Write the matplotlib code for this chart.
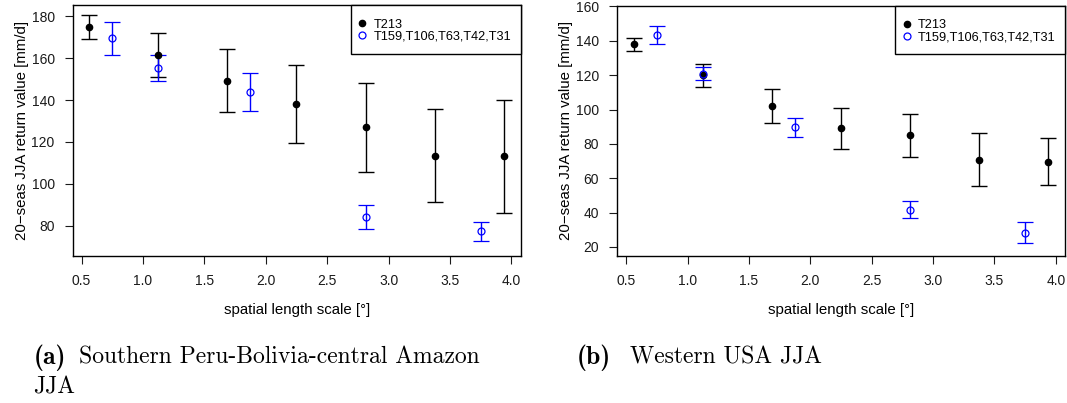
import matplotlib
matplotlib.use("Agg")
import matplotlib.pyplot as plt
from matplotlib.lines import Line2D
from matplotlib.patches import Rectangle

# --- Data ---
x_t213 = [0.5625, 1.125, 1.6875, 2.25, 2.8125, 3.375, 3.9375]
x_low  = [0.75, 1.125, 1.875, 2.8125, 3.75]

# (a) Southern Peru-Bolivia-central Amazon JJA
a_t213     = [175.0, 161.5, 149.2, 138.2, 127.1, 113.1, 113.1]
a_t213_hi  = [180.8, 172.1, 164.5, 156.6, 148.1, 135.5, 139.8]
a_t213_lo  = [168.9, 151.1, 134.4, 119.7, 105.6, 91.1, 86.3]
a_low      = [169.4, 155.2, 143.9, 84.4, 77.4]
a_low_hi   = [177.3, 161.3, 153.1, 90.0, 81.8]
a_low_lo   = [161.3, 149.2, 134.8, 78.5, 72.9]

# (b) Western USA JJA
b_t213     = [137.9, 120.3, 102.3, 89.2, 84.9, 70.8, 69.6]
b_t213_hi  = [141.6, 126.4, 111.7, 101.1, 97.3, 86.4, 83.3]
b_t213_lo  = [134.3, 112.9, 92.4, 77.3, 72.6, 55.4, 55.8]
b_low      = [143.4, 120.6, 89.6, 41.7, 28.3]
b_low_hi   = [148.9, 124.8, 95.1, 46.7, 34.6]
b_low_lo   = [138.2, 116.9, 84.1, 36.8, 22.0]

labels = ["T213", "T159,T106,T63,T42,T31"]

# --- Style ---
plt.rcParams["font.family"] = ["Liberation Sans", "DejaVu Sans"]
t213_style = {"color": "black", "marker": "o", "ms": 4.5, "ls": "none",
              "elinewidth": 1, "capsize": 5.8, "capthick": 1}
low_style  = {"color": "#0000FF", "marker": "o", "ms": 5, "ls": "none", "mfc": "none",
              "mew": 0.9, "elinewidth": 1, "capsize": 5.8, "capthick": 1}


def err(v, hi, lo):
    return [[a - b for a, b in zip(v, lo)], [b - a for a, b in zip(v, hi)]]


W, H = 1067, 403
fig = plt.figure(figsize=(W / 100, H / 100), dpi=100)


def px_axes(l, t, r, b):
    return fig.add_axes([l / W, 1 - b / H, (r - l) / W, (b - t) / H])


ax_a = px_axes(72.7, 5.3, 520.6, 255.5)
ax_b = px_axes(617.3, 5.8, 1065, 256)

panels = [
    (ax_a, a_t213, a_t213_hi, a_t213_lo, a_low, a_low_hi, a_low_lo,
     (65.8, 185.2), [80, 100, 120, 140, 160, 180]),
    (ax_b, b_t213, b_t213_hi, b_t213_lo, b_low, b_low_hi, b_low_lo,
     (14.7, 160.4), [20, 40, 60, 80, 100, 120, 140, 160]),
]

for ax, t, thi, tlo, l, lhi, llo, ylim, yt in panels:
    ax.errorbar(x_t213, t, yerr=err(t, thi, tlo), **t213_style)
    ax.errorbar(x_low, l, yerr=err(l, lhi, llo), **low_style)
    ax.set_xlim(0.428, 4.075)
    ax.set_ylim(*ylim)
    ax.set_yticks(yt)
    ax.set_xticks([0.5, 1.0, 1.5, 2.0, 2.5, 3.0, 3.5, 4.0])
    ax.set_xticklabels(["0.5", "1.0", "1.5", "2.0", "2.5", "3.0", "3.5", "4.0"])
    ax.tick_params(direction="out", length=6, width=0.8, labelsize=10, pad=7, colors="#1a1a1a")
    for s in ax.spines.values():
        s.set_linewidth(1)
    ax.set_xlabel("spatial length scale [°]", fontsize=10.8, labelpad=11)
    ax.set_ylabel("20\u2212seas JJA return value [mm/d]", fontsize=10.8, labelpad=2)

    # legend: R-style box in the top right corner
    ax.add_patch(Rectangle((0.6205, 0.807), 0.3795, 0.193, transform=ax.transAxes,
                           fill=True, fc="white", ec="black", lw=1, zorder=4, clip_on=False))
    handles = [
        Line2D([], [], color="black", marker="o", ms=4.5, ls="none"),
        Line2D([], [], color="#0000FF", marker="o", ms=5, mfc="none", mew=0.9, ls="none"),
    ]
    leg = ax.legend(handles, labels, loc="center left", bbox_to_anchor=(0.6397, 0.898),
                    borderaxespad=0, borderpad=0, frameon=False, fontsize=9.2,
                    handlelength=0.5, handletextpad=0.63, labelspacing=0.02)
    leg.set_zorder(5)

# --- captions ---
cap = {"fontsize": 17, "va": "baseline"}
fig.text(33.3 / W, 1 - 364 / H, "(a)", fontfamily="cmb10", fontsize=18.5, va="baseline")
fig.text(79 / W, 1 - 364 / H, "Southern Peru-Bolivia-central Amazon", fontfamily="cmr10", **cap)
fig.text(33.3 / W, 1 - 394 / H, "JJA", fontfamily="cmr10", **cap)
fig.text(577 / W, 1 - 364 / H, "(b)", fontfamily="cmb10", fontsize=18.5, va="baseline")
fig.text(630 / W, 1 - 364 / H, "Western USA JJA", fontfamily="cmr10", **cap)

fig.savefig("out.png", dpi=100)
